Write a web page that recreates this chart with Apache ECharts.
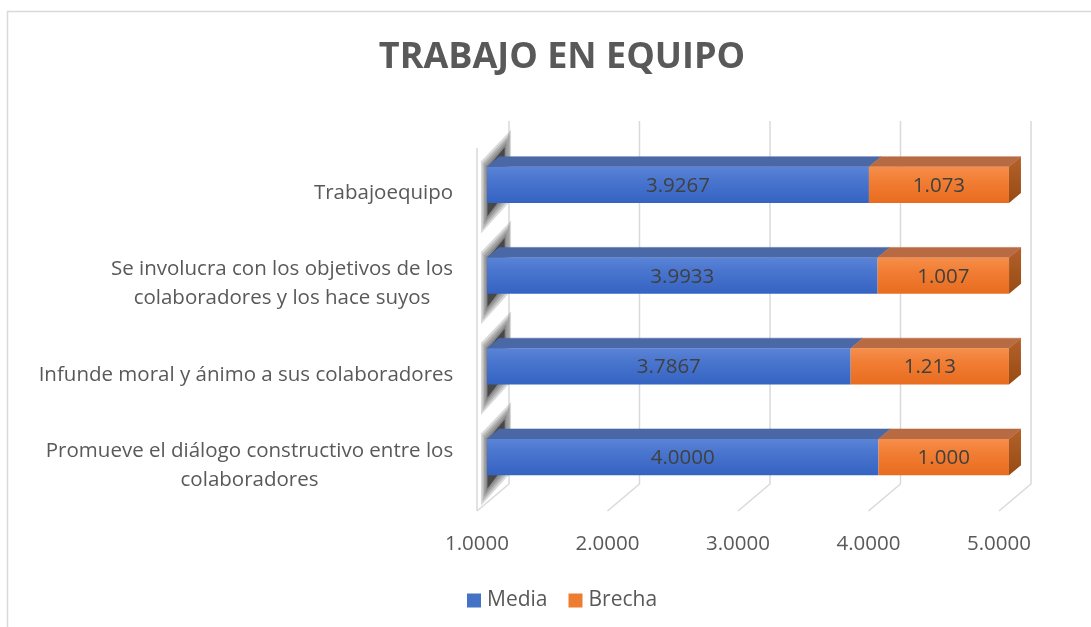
<!DOCTYPE html>
<html>
<head>
<meta charset="utf-8">
<script src="https://cdn.jsdelivr.net/npm/echarts@6/dist/echarts.min.js"></script>
<style>
html,body{margin:0;padding:0;background:#fff;}
#c{width:1091px;height:627px;}
</style>
</head>
<body>
<div id="c"></div>
<script>
// ---- data ----
const categories = [
  'Promueve el diálogo constructivo entre los\ncolaboradores',
  'Infunde moral y ánimo a sus colaboradores',
  'Se involucra con los objetivos de los\ncolaboradores y los hace suyos',
  'Trabajoequipo'
];
const media = [4.0000, 3.7867, 3.9933, 3.9267];
const brecha = [1.000, 1.213, 1.007, 1.073];
const xTicks = [1, 2, 3, 4, 5];
const titleText = 'TRABAJO EN EQUIPO';
const seriesNames = ['Media', 'Brecha'];

// ---- style ----
const FONT = '"Open Sans", "DejaVu Sans", sans-serif';
const FS = 20.5;
const TXT = '#595959';
const DX = 32, DY = -27;          // depth projection
const DF = 0.3125, DB = 0.6875;   // bar front/back depth

// measure label widths for centered multi-line labels
const cv = document.createElement('canvas').getContext('2d');
cv.font = FS + 'px "Open Sans"';
const rich = {};
categories.forEach((c, i) => {
  const w = Math.max(...c.split('\n').map(l => cv.measureText(l).width));
  rich['w' + i] = { width: Math.ceil(w) + 1, align: 'center', fontSize: FS, fontFamily: FONT, color: TXT, lineHeight: 29 };
});

function P(x, y, d) { return [x + DX * d, y + DY * d]; }

function barRender(colors, isEnd, decimals) {
  return function (params, api) {
    const cat = api.value(0), v0 = api.value(1), v1 = api.value(2);
    const a = api.coord([v0, cat]), b = api.coord([v1, cat]);
    const h = api.size([0, 1])[1] * 0.4;
    const yc = a[1];
    const yT = yc - h / 2, yB = yc + h / 2;
    const ch = [];
    if (!isEnd) {
      // soft (layered) shadow on left wall
      for (let k = 4; k >= 0; k--) {
        const e = k * 3, dd = k * 0.05;
        ch.push({
          type: 'polygon', z2: 1,
          shape: { points: [
            P(a[0] + 4, yT - 2 - e, 0.2 - dd), P(a[0] + 4, yT - 8 - e, 0.74 + dd),
            P(a[0] + 4, yB + 2 + e, 0.74 + dd), P(a[0] + 4, yB + 10 + e, 0.2 - dd)] },
          style: { fill: 'rgba(30,30,30,' + (k === 0 ? 0.6 : 0.17) + ')' }
        });
      }
    }
    const fTL = P(a[0], yT, DF), fTR = P(b[0], yT, DF), fBR = P(b[0], yB, DF);
    const bTL = P(a[0], yT, DB), bTR = P(b[0], yT, DB), bBR = P(b[0], yB, DB);
    // top face
    ch.push({ type: 'polygon', z2: 5, shape: { points: [fTL, fTR, bTR, bTL] },
      style: { fill: colors.top, stroke: colors.top, lineWidth: 0.5 } });
    // front face
    ch.push({ type: 'rect', z2: 6, shape: { x: fTL[0], y: fTL[1], width: fTR[0] - fTL[0], height: h },
      style: { fill: new echarts.graphic.LinearGradient(0, 0, 0, 1, [
        { offset: 0, color: colors.f0 }, { offset: 0.35, color: colors.f1 }, { offset: 1, color: colors.f2 }]) } });
    if (isEnd) {
      ch.push({ type: 'polygon', z2: 6, shape: { points: [fTR, bTR, bBR, fBR] },
        style: { fill: new echarts.graphic.LinearGradient(0, 0, 0, 1, [
          { offset: 0, color: colors.s0 }, { offset: 1, color: colors.s1 }]) } });
    }
    ch.push({ type: 'text', z2: 10,
      style: { text: (isEnd ? brecha[params.dataIndex] : media[params.dataIndex]).toFixed(decimals),
        x: (fTL[0] + fTR[0]) / 2, y: fTL[1] + h / 2 + 1, align: 'center', verticalAlign: 'middle',
        fontSize: FS, fontFamily: FONT, fill: '#404040' } });
    return { type: 'group', children: ch };
  };
}

function gridRender(params, api) {
  const v = api.value(0);
  const x = api.coord([v, 0])[0];
  const cs = params.coordSys;
  const top = cs.y, bot = cs.y + cs.height;
  const st = { stroke: '#d9d9d9', lineWidth: 1.5, fill: null };
  const ch = [
    { type: 'polyline', shape: { points: [P(x, top, 1), P(x, bot, 1), P(x, bot, 0)] }, style: st }
  ];
  if (params.dataIndex === 0) {
    ch.push({ type: 'line', shape: { x1: x, y1: top, x2: x, y2: bot }, style: st });
  }
  return { type: 'group', children: ch };
}

const blue = { top: '#4a67a6', f0: '#5b84d6', f1: '#4a76cf', f2: '#3563c2' };
const orange = { top: '#b86b43', f0: '#f58f4d', f1: '#f27f35', f2: '#e76c1f', s0: '#b4612c', s1: '#974b12' };

const chart = echarts.init(document.getElementById('c'), null, { renderer: 'canvas' });
chart.setOption({
  backgroundColor: '#ffffff',
  animation: false,
  title: {
    text: titleText, left: 557, textAlign: 'center', top: 35,
    textStyle: { fontFamily: FONT, fontWeight: 'bold', fontSize: 36, color: TXT }
  },
  graphic: [{
    type: 'polyline', silent: true,
    shape: { points: [[7.5, 700], [7.5, 11.5], [1200, 11.5]] },
    style: { stroke: '#d9d9d9', lineWidth: 1.5, fill: null }
  }],
  legend: {
    data: seriesNames, left: 462, top: 585, icon: 'rect', itemWidth: 14, itemHeight: 14, itemGap: 21,
    textStyle: { fontFamily: FONT, fontSize: 21, color: TXT, padding: [0, 0, 0, 1] }
  },
  grid: { left: 477, right: 92, top: 148, height: 363, containLabel: false },
  xAxis: {
    type: 'value', min: xTicks[0], max: xTicks[xTicks.length - 1], interval: 1,
    axisLine: { show: false }, axisTick: { show: false }, splitLine: { show: false },
    axisLabel: { margin: 23, fontFamily: FONT, fontSize: FS, color: TXT, formatter: v => v.toFixed(4) }
  },
  yAxis: {
    type: 'category', data: categories,
    axisLine: { show: false }, axisTick: { show: false },
    axisLabel: {
      margin: 23, align: 'right', rich: rich,
      formatter: (val, idx) => val.split('\n').map(l => '{w' + idx + '|' + l + '}').join('\n')
    }
  },
  series: [
    {
      type: 'custom', name: '_grid', z: 1, silent: true,
      data: xTicks.map(t => [t, 0]), encode: { x: 0, y: 1 },
      renderItem: gridRender
    },
    {
      type: 'custom', name: seriesNames[0], z: 3,
      itemStyle: { color: '#4472C4' },
      data: media.map((m, i) => [i, xTicks[0], m]), encode: { x: [1, 2], y: 0 },
      renderItem: barRender(blue, false, 4)
    },
    {
      type: 'custom', name: seriesNames[1], z: 4,
      itemStyle: { color: '#ED7D31' },
      data: brecha.map((b, i) => [i, media[i], media[i] + b]), encode: { x: [1, 2], y: 0 },
      renderItem: barRender(orange, true, 3)
    }
  ]
});
</script>
</body>
</html>
